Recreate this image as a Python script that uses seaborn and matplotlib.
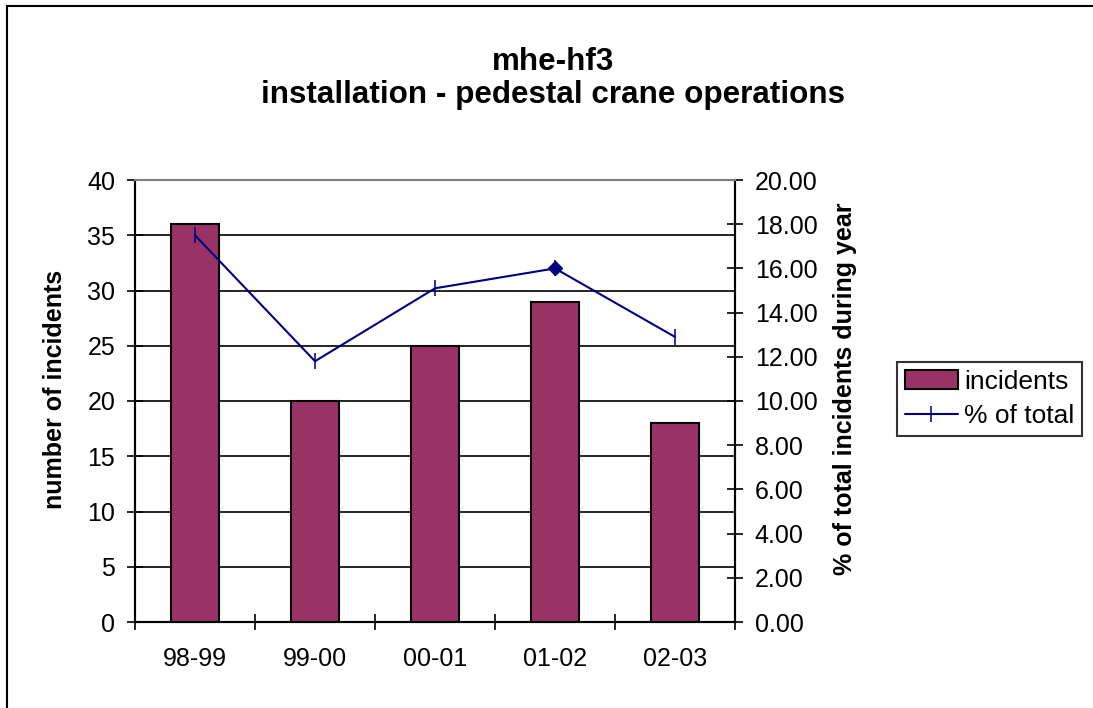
import numpy as np
import seaborn as sns
import matplotlib.pyplot as plt
from matplotlib.patches import Rectangle

categories = ['98-99', '99-00', '00-01', '01-02', '02-03']
incidents = [36, 20, 25, 29, 18]
pct_of_total = [17.5, 11.8, 15.1, 16.0, 12.9]

title_lines = ['mhe-hf3', 'installation - pedestal crane operations']
bar_color = '#993366'
line_color = '#000080'

sns.set_style('white')
plt.rcParams['font.family'] = ['Liberation Sans', 'DejaVu Sans']
plt.rcParams['text.color'] = 'black'
plt.rcParams['axes.labelcolor'] = 'black'
plt.rcParams['xtick.color'] = 'black'
plt.rcParams['ytick.color'] = 'black'

fig = plt.figure(figsize=(10.93, 7.08), dpi=100)
ax = fig.add_axes([135 / 1093, 86 / 708, 600 / 1093, 442 / 708])

sns.barplot(x=categories, y=incidents, ax=ax, color=bar_color, width=0.4,
            edgecolor='black', linewidth=1.5, saturation=1, label='incidents')
ax.set_ylim(0, 40)
ax.set_yticks(np.arange(0, 41, 5))
ax.yaxis.grid(True, color='black', linewidth=1.2)
ax.set_axisbelow(True)

ax2 = ax.twinx()
sns.pointplot(x=categories, y=pct_of_total, ax=ax2, color=line_color,
              markers='|', linestyles='-', errorbar=None,
              markersize=11, linewidth=1.5, label='% of total')
# one point drawn with a diamond in the original
i = categories.index('01-02')
ax2.plot(i, pct_of_total[i], marker='D', color=line_color, markersize=7)
ax2.set_ylim(0, 20)
ax2.set_yticks(np.arange(0, 21, 2))
ax2.set_yticklabels([f'{v:.2f}' for v in np.arange(0, 21, 2)])

for a in (ax, ax2):
    for side in ('left', 'right', 'bottom'):
        a.spines[side].set_visible(True)
        a.spines[side].set_color('black')
        a.spines[side].set_linewidth(1.5)
    a.spines['top'].set_color('#808080')
    a.spines['top'].set_linewidth(1.5)

ax.tick_params(axis='y', direction='inout', length=11.5, width=1.2, pad=8.5,
               labelsize=18, left=True)
ax2.tick_params(axis='y', direction='inout', length=11.5, width=1.2, pad=8.5,
                labelsize=18, right=True)
ax.set_xticks(np.arange(-0.5, len(categories)), minor=True)
ax.tick_params(axis='x', which='major', length=0, pad=18, labelsize=18)
ax.tick_params(axis='x', which='minor', direction='inout', length=12, width=1.2,
               bottom=True)
ax.set_xlabel('')

ax.set_ylabel('number of incidents', fontsize=18, fontweight='bold')
ax2.set_ylabel('% of total incidents during year', fontsize=18, fontweight='bold')
ax.yaxis.set_label_coords(-0.1133, 0.527)
ax2.yaxis.set_label_coords(1.1633, 0.527)

fig.text(553 / 1093, 1 - 62 / 708, title_lines[0], ha='center', va='center',
         fontsize=22.6, fontweight='bold')
fig.text(553 / 1093, 1 - 95 / 708, title_lines[1], ha='center', va='center',
         fontsize=22.6, fontweight='bold')

h1, l1 = ax.get_legend_handles_labels()
h2, l2 = ax2.get_legend_handles_labels()
for a in (ax, ax2):
    if a.get_legend() is not None:
        a.get_legend().remove()
leg = fig.legend(h1 + h2[:1], l1 + l2[:1], loc='upper left',
                 bbox_to_anchor=(897 / 1093, 1 - 362 / 708), fontsize=19,
                 frameon=True, fancybox=False, borderaxespad=0,
                 handlelength=2.0, handletextpad=0.25, labelspacing=0.4,
                 borderpad=0.3)
leg.get_frame().set_edgecolor('black')
leg.get_frame().set_linewidth(1.5)

fig.add_artist(Rectangle((7 / 1093, -0.1), 1.2, 1.1 - 6 / 708, fill=False,
                         edgecolor='black', linewidth=1.5,
                         transform=fig.transFigure))

fig.savefig('out.png', dpi=100)
